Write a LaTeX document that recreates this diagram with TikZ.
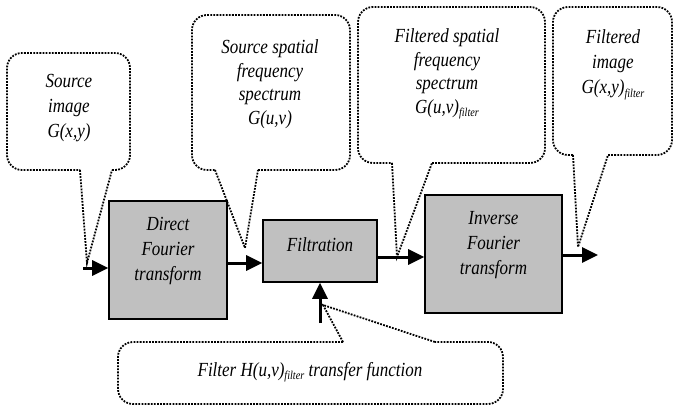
\documentclass[tikz,border=0pt]{standalone}
\usepackage{fontspec}
\setmainfont{Liberation Serif}[FakeStretch=0.85]
\usetikzlibrary{arrows.meta}
\definecolor{boxgray}{HTML}{C0C0C0}
% small lowered index such as "filter"
\newcommand{\fsub}[1]{\raisebox{-3.5pt}{\fontsize{12}{12}\selectfont #1}}

\begin{document}
\begin{tikzpicture}[x=1pt,y=-1pt,
  block/.style={draw, line width=1.6pt, fill=boxgray, inner sep=0},
  lbl/.style={font=\fontsize{20}{25}\selectfont\itshape, align=center, inner sep=0},
  lbltight/.style={font=\fontsize{20}{23.5}\selectfont\itshape, align=center, inner sep=0},
  flow/.style={line width=3pt, -{Triangle[length=16pt,width=15pt]}},
  bubble/.style={line width=1.8pt, dash pattern=on 1.8pt off 1.3pt},
  roundbubble/.style={bubble, rounded corners=15pt},
]
\useasboundingbox (0,0) rectangle (674,406);

% processing blocks
\node[block, minimum width=118pt, minimum height=118pt] (dft)  at (168,260) {};
\node[block, minimum width=114pt, minimum height=62pt]  (filt) at (320,251) {};
\node[block, minimum width=137pt, minimum height=118pt] (idft) at (493.5,254) {};

\node[lbl] (dfttxt)  at (168,251) {Direct\\Fourier\\transform};
\node[lbl] (filttxt) at (320,245) {Filtration};
\node[lbl] (idfttxt) at (493.5,245) {Inverse\\Fourier\\transform};

% signal flow
\coordinate (in)  at (83,268);
\coordinate (out) at (598,255);
\coordinate (hin) at (320,323);
\draw[flow] (in) -- ([yshift=-8pt]dft.west);
\draw[flow] ([yshift=-3pt]dft.east) -- ([yshift=-12pt]filt.west);
\draw[flow] ([yshift=-6pt]filt.east) -- ([yshift=-3pt]idft.west);
\draw[flow] ([yshift=-1pt]idft.east) -- (out);
\draw[flow] (hin) -- (filt.south);

% callout: source image
\draw[roundbubble] (112,170) -- (130,170) -- (130,53) -- (7,53) -- (7,170) -- (80,170);
\coordinate (t1) at (87,263);
\draw[bubble] (80,170) -- (t1) -- (112,170);
\node[lbl] (c1) at (69,108) {Source\\image\\G(x,y)};

% callout: source spectrum
\draw[roundbubble] (258,170) -- (350,170) -- (350,15) -- (192,15) -- (192,170) -- (215,170);
\coordinate (t2) at (245,248);
\draw[bubble] (215,170) -- (t2) -- (258,170);
\node[lbltight] (c2) at (270,84) {Source spatial\\frequency\\spectrum\\G(u,v)};

% callout: filtered spectrum
\draw[roundbubble] (432,163) -- (545,163) -- (545,7) -- (358,7) -- (358,163) -- (392,163);
\coordinate (t3) at (397,257);
\draw[bubble] (392,163) -- (t3) -- (432,163);
\node[lbltight] (c3) at (447,74) {Filtered spatial\\frequency\\spectrum\\G(u,v)\fsub{filter}};

% callout: filtered image
\draw[roundbubble] (608,155) -- (672,155) -- (672,7) -- (553,7) -- (553,155) -- (573,155);
\coordinate (t4) at (578,247);
\draw[bubble] (573,155) -- (t4) -- (608,155);
\node[lbl] (c4) at (613,65) {Filtered\\image\\G(x,y)\fsub{filter}};

% callout: filter transfer function
\draw[roundbubble] (343,342) -- (118,342) -- (118,404) -- (503,404) -- (503,342) -- (435,342);
\coordinate (t5) at (323,305);
\draw[bubble] (343,342) -- (t5) -- (435,342);
\node[lbl] (c5) at (310,372) {Filter H(u,v)\fsub{filter} transfer function};
\end{tikzpicture}
\end{document}
